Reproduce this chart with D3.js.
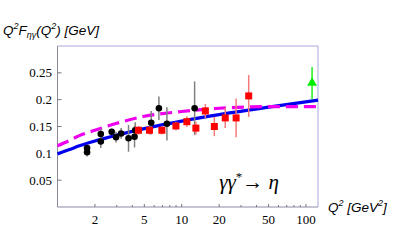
<!DOCTYPE html>
<html>
<head>
<meta charset="utf-8">
<script src="https://cdn.jsdelivr.net/npm/d3@7"></script>
<style>
  body { margin: 0; background: #fff; }
  svg { display: block; }
</style>
</head>
<body>
<div id="chart"></div>
<script>
'use strict'

// CLEO-like black points: Q^2, value, error
let blackQ2  = [1.73, 1.73, 2.23, 2.23, 2.73, 2.96, 3.25, 3.73, 4.17, 4.22, 5.68, 6.55, 7.6, 12.7];
let blackVal = [0.110, 0.102, 0.136, 0.122, 0.140, 0.130, 0.137, 0.128, 0.131, 0.143, 0.157, 0.184, 0.155, 0.184];
let blackErr = [0.006, 0.008, 0.010, 0.012, 0.006, 0.010, 0.010, 0.025, 0.020, 0.015, 0.022, 0.022, 0.031, 0.050];

// red squares
let redQ2  = [4.48, 5.5, 6.92, 8.98, 11.0, 13.0, 15.5, 18.3, 22.4, 27.4, 34.6];
let redVal = [0.143, 0.143, 0.143, 0.151, 0.159, 0.147, 0.179, 0.150, 0.166, 0.166, 0.207];
let redErr = [0.008, 0.008, 0.008, 0.008, 0.010, 0.012, 0.013, 0.018, 0.019, 0.036, 0.039];

// green triangle
let greenQ2  = [112];
let greenVal = [0.231];
let greenErr = [0.030];

// theory curves
let curveQ2    = [1, 1.25, 1.5, 2, 3, 5, 10, 20, 50, 125];
let blueVal    = [0.099, 0.107, 0.114, 0.123, 0.134, 0.146, 0.160, 0.172, 0.186, 0.199];
let magentaVal = [0.114, 0.124, 0.133, 0.143, 0.156, 0.169, 0.178, 0.184, 0.187, 0.187];

let yTicks = [0.05, 0.1, 0.15, 0.2, 0.25];
let xTicks = [2, 5, 10, 20, 50, 100];
let xMinor = [2, 3, 4, 5, 6, 7, 8, 9, 10, 20, 30, 40, 50, 60, 70, 80, 90, 100];

var W = 396, H = 244;
var frame = {left: 57.5, right: 318, top: 46, bottom: 207};

var x = d3.scaleLog().domain([1, 125]).range([frame.left, frame.right]);
var y = d3.scaleLinear().domain([0, 0.3]).range([frame.bottom, frame.top]);

var svg = d3.select("#chart").append("svg")
    .attr("width", W)
    .attr("height", H);

// frame
svg.append("line").attr("x1", frame.left).attr("x2", frame.right).attr("y1", frame.top).attr("y2", frame.top)
    .attr("stroke", "#a8a8dc").attr("stroke-width", 1);
svg.append("line").attr("x1", frame.right).attr("x2", frame.right).attr("y1", frame.top).attr("y2", frame.bottom)
    .attr("stroke", "#a8a8dc").attr("stroke-width", 1);
svg.append("line").attr("x1", frame.left).attr("x2", frame.left).attr("y1", frame.top).attr("y2", frame.bottom)
    .attr("stroke", "#8a8a9a").attr("stroke-width", 1);
svg.append("line").attr("x1", frame.left).attr("x2", frame.right).attr("y1", frame.bottom).attr("y2", frame.bottom)
    .attr("stroke", "#8a8aa8").attr("stroke-width", 1);

// y ticks
svg.selectAll(".ytick").data(yTicks).enter().append("line")
    .attr("x1", frame.left).attr("x2", frame.left + 4)
    .attr("y1", function(d) { return y(d); }).attr("y2", function(d) { return y(d); })
    .attr("stroke", "#777").attr("stroke-width", 1);
svg.selectAll(".ylbl").data(yTicks).enter().append("text")
    .attr("x", 52).attr("y", function(d) { return y(d) + 4.5; })
    .attr("text-anchor", "end")
    .style("font-family", "'Liberation Serif', 'DejaVu Serif', serif")
    .style("font-size", "13px")
    .text(function(d) { return d; });

// x ticks
svg.selectAll(".xtick").data(xMinor).enter().append("line")
    .attr("x1", function(d) { return x(d); }).attr("x2", function(d) { return x(d); })
    .attr("y1", frame.bottom).attr("y2", function(d) { return xTicks.indexOf(d) >= 0 ? frame.bottom - 3 : frame.bottom - 2; })
    .attr("stroke", "#777").attr("stroke-width", 1);
svg.selectAll(".xlbl").data(xTicks).enter().append("text")
    .attr("x", function(d) { return x(d); }).attr("y", 224)
    .attr("text-anchor", "middle")
    .style("font-family", "'Liberation Serif', 'DejaVu Serif', serif")
    .style("font-size", "13px")
    .text(function(d) { return d; });

// curves
var blueData = curveQ2.map(function(q, i) { return [q, blueVal[i]]; });
var magData = curveQ2.map(function(q, i) { return [q, magentaVal[i]]; });
var line = d3.line()
    .x(function(d) { return x(d[0]); })
    .y(function(d) { return y(d[1]); })
    .curve(d3.curveMonotoneX);

svg.append("path").datum(blueData).attr("d", line)
    .attr("fill", "none").attr("stroke", "#0000ee").attr("stroke-width", 3.2);
svg.append("path").datum(magData).attr("d", line)
    .attr("fill", "none").attr("stroke", "#ee00ee").attr("stroke-width", 3.2)
    .attr("stroke-dasharray", "12,6");

// error bars
function errBars(qs, vals, errs, color) {
  svg.append("g").selectAll("line").data(qs).enter().append("line")
      .attr("x1", function(d) { return x(d); }).attr("x2", function(d) { return x(d); })
      .attr("y1", function(d, i) { return y(vals[i] - errs[i]); })
      .attr("y2", function(d, i) { return y(vals[i] + errs[i]); })
      .attr("stroke", color).attr("stroke-width", 1.5);
}
errBars(blackQ2, blackVal, blackErr, "#808080");
errBars(redQ2, redVal, redErr, "#f27a7a");
errBars(greenQ2, greenVal, greenErr, "#22ee22");

// markers
svg.append("g").selectAll("circle").data(blackQ2).enter().append("circle")
    .attr("cx", function(d) { return x(d); })
    .attr("cy", function(d, i) { return y(blackVal[i]); })
    .attr("r", 3.3).attr("fill", "#000");
svg.append("g").selectAll("rect").data(redQ2).enter().append("rect")
    .attr("x", function(d) { return x(d) - 3.5; })
    .attr("y", function(d, i) { return y(redVal[i]) - 3.5; })
    .attr("width", 7).attr("height", 7).attr("fill", "#ff0000");
svg.append("g").selectAll("path").data(greenQ2).enter().append("path")
    .attr("d", d3.symbol().type(d3.symbolTriangle).size(42))
    .attr("transform", function(d, i) { return "translate(" + x(d) + "," + y(greenVal[i]) + ")"; })
    .attr("fill", "#00ee00");

// labels
var sans = "'Liberation Sans', Arial, sans-serif";
var yl = svg.append("text").attr("x", 3).attr("y", 35)
    .style("font-family", sans).style("font-style", "italic").style("font-size", "13.5px");
yl.append("tspan").text("Q");
yl.append("tspan").attr("dy", -6).style("font-size", "9px").text("2");
yl.append("tspan").attr("dy", 6).text("F");
yl.append("tspan").attr("dy", 3).style("font-size", "9px").text("ηγ");
yl.append("tspan").attr("dy", -3).text("(Q");
yl.append("tspan").attr("dy", -6).style("font-size", "9px").text("2");
yl.append("tspan").attr("dy", 6).text(") [GeV]");

var xl = svg.append("text").attr("x", 328).attr("y", 212)
    .style("font-family", sans).style("font-style", "italic").style("font-size", "13.5px");
xl.append("tspan").text("Q");
xl.append("tspan").attr("dy", -6).style("font-size", "9px").text("2");
xl.append("tspan").attr("dy", 6).text(" [GeV");
xl.append("tspan").attr("dy", -6).style("font-size", "9px").text("2");
xl.append("tspan").attr("dy", 6).text("]");

var pl = svg.append("text").attr("x", 279).attr("y", 189)
    .attr("text-anchor", "end")
    .style("font-family", "'Liberation Serif', 'DejaVu Serif', serif").style("font-size", "21px");
pl.append("tspan").style("font-style", "italic").text("γγ");
pl.append("tspan").attr("dy", -8).style("font-size", "13px").text("*");
pl.append("tspan").attr("dy", 8).text("→ ");
pl.append("tspan").style("font-style", "italic").text("η");
</script>
</body>
</html>
